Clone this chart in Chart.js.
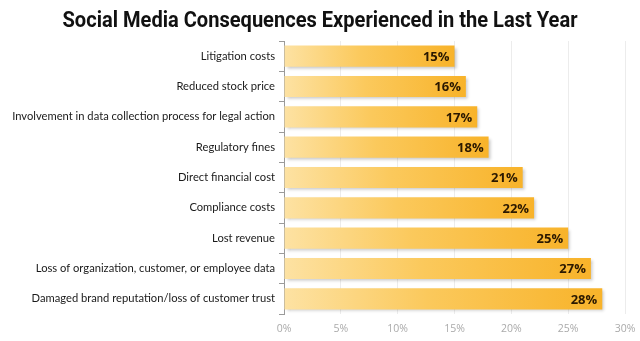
<!DOCTYPE html>
<html>
<head>
<meta charset="utf-8">
<script src="https://cdn.jsdelivr.net/npm/chart.js@4/dist/chart.umd.min.js"></script>
<style>
  html, body { margin: 0; padding: 0; background: #fff; }
  #wrap { width: 640px; height: 341px; }
</style>
</head>
<body>
<div id="wrap"><canvas id="c" width="640" height="341"></canvas></div>
<script>
const categories = [
  'Litigation costs',
  'Reduced stock price',
  'Involvement in data collection process for legal action',
  'Regulatory fines',
  'Direct financial cost',
  'Compliance costs',
  'Lost revenue',
  'Loss of organization, customer, or employee data',
  'Damaged brand reputation/loss of customer trust'
];
const percentages = [15, 16, 17, 18, 21, 22, 25, 27, 28];
const xTicks = [0, 5, 10, 15, 20, 25, 30];
const titleText = 'Social Media Consequences Experienced in the Last Year';

const PAD_LEFT = 4;
const PAD_RIGHT = 15;
const PAD_BOTTOM = 4;
const PLOT_TOP = 41;

// Each bar fades from pale yellow at its base to orange at its tip.
function barGradient(ctx) {
  const chart = ctx.chart;
  const xs = chart.scales.x;
  if (!xs || ctx.dataIndex === undefined) return '#f9b935';
  const x0 = xs.getPixelForValue(0);
  const x1 = xs.getPixelForValue(percentages[ctx.dataIndex]);
  if (!isFinite(x0) || !isFinite(x1) || x1 <= x0) return '#f9b935';
  const g = chart.ctx.createLinearGradient(x0, 0, x1, 0);
  g.addColorStop(0, '#fde2a3');
  g.addColorStop(0.45, '#fbc95c');
  g.addColorStop(1, '#f8b32a');
  return g;
}

// Soft drop shadow beneath the bars.
const barShadow = {
  id: 'barShadow',
  beforeDatasetsDraw(chart) {
    const c = chart.ctx;
    c.save();
    c.shadowColor = 'rgba(0,0,0,0.22)';
    c.shadowBlur = 3;
    c.shadowOffsetX = 2;
    c.shadowOffsetY = 2;
  },
  afterDatasetsDraw(chart) {
    chart.ctx.restore();
  }
};

// Value labels right-aligned inside the end of each bar.
const valueLabels = {
  id: 'valueLabels',
  afterDatasetsDraw(chart) {
    const c = chart.ctx;
    const meta = chart.getDatasetMeta(0);
    c.save();
    c.font = 'bold 13px "Open Sans", sans-serif';
    c.fillStyle = '#2a1800';
    c.textAlign = 'right';
    c.textBaseline = 'middle';
    meta.data.forEach((bar, i) => {
      c.fillText(percentages[i] + '%', bar.x - 5, bar.y + 1);
    });
    c.restore();
  }
};

// Condensed bold headline centred above the plot.
const headline = {
  id: 'headline',
  afterDraw(chart) {
    const c = chart.ctx;
    c.save();
    c.font = 'bold 22px Roboto, "Open Sans", sans-serif';
    c.fillStyle = '#111111';
    c.textBaseline = 'alphabetic';
    c.textAlign = 'center';
    const w = c.measureText(titleText).width;
    const sx = Math.min(1, 515 / w);
    c.translate(chart.width / 2, 27);
    c.scale(sx, 1);
    c.fillText(titleText, 0, 0);
    c.restore();
  }
};

new Chart(document.getElementById('c'), {
  type: 'bar',
  data: {
    labels: categories,
    datasets: [{
      data: percentages,
      backgroundColor: barGradient,
      borderWidth: 0,
      categoryPercentage: 1,
      barPercentage: 0.7
    }]
  },
  options: {
    indexAxis: 'y',
    responsive: false,
    animation: false,
    devicePixelRatio: 1,
    layout: { padding: { left: PAD_LEFT, right: PAD_RIGHT, top: PLOT_TOP, bottom: PAD_BOTTOM } },
    plugins: {
      legend: { display: false },
      tooltip: { enabled: false },
      title: { display: false }
    },
    scales: {
      x: {
        min: 0,
        max: 30,
        afterBuildTicks(scale) {
          scale.ticks = xTicks.map(v => ({ value: v }));
        },
        afterFit(scale) {
          scale.height = 341 - 314 - PAD_BOTTOM;
          scale.paddingLeft = 0;
          scale.paddingRight = 0;
        },
        grid: { color: '#ececec', drawTicks: false },
        border: { display: false },
        ticks: {
          color: '#aaaaaa',
          padding: 9,
          font: { family: '"Open Sans", sans-serif', size: 10.5 },
          callback: v => v + '%'
        }
      },
      y: {
        afterFit(scale) { scale.width = 284 - PAD_LEFT; },
        grid: { drawOnChartArea: false, drawTicks: true, tickLength: 5, color: '#9a9a9a', offset: true },
        border: { display: true, color: '#9a9a9a' },
        ticks: {
          color: '#1a1a1a',
          padding: 4,
          font: { family: 'Lato, sans-serif', size: 11.2 }
        }
      }
    }
  },
  plugins: [barShadow, valueLabels, headline]
});
</script>
</body>
</html>
